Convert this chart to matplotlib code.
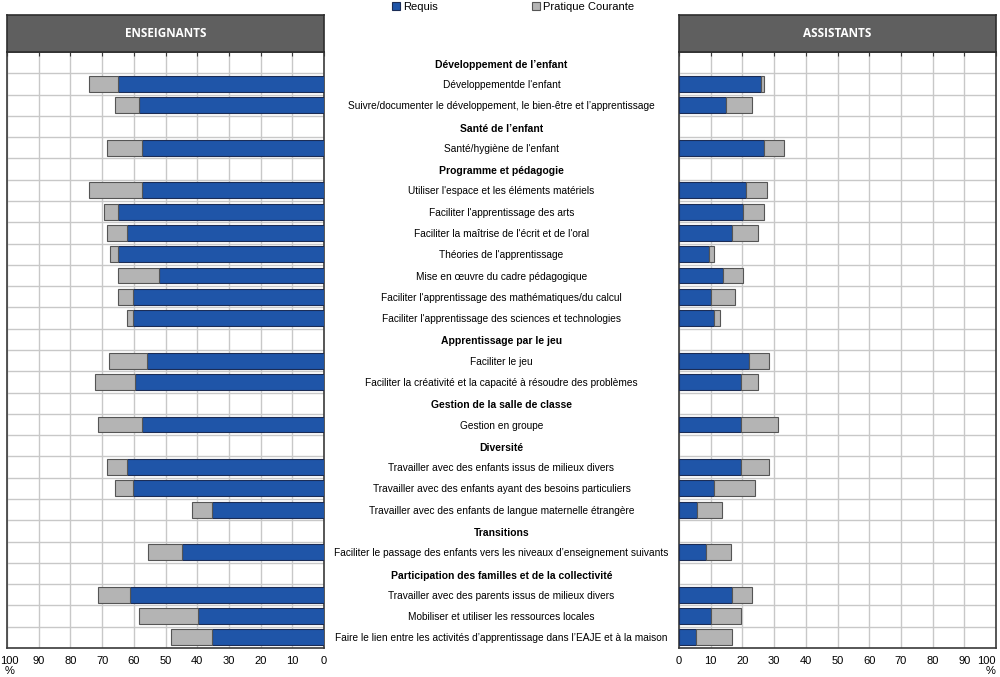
import matplotlib
matplotlib.use("Agg")
import matplotlib.pyplot as plt
from matplotlib.patches import Patch
from matplotlib.transforms import blended_transform_factory
import numpy as np

plt.rcParams['font.family'] = ['Liberation Sans', 'DejaVu Sans']

# ---- data ----
categories = ["Développement de l’enfant", "Santé de l’enfant", "Programme et pédagogie",
              "Apprentissage par le jeu", "Gestion de la salle de classe", "Diversité",
              "Transitions", "Participation des familles et de la collectivité"]

labels = ["Développementde l'enfant",
          "Suivre/documenter le développement, le bien-être et l’apprentissage",
          "Santé/hygiène de l'enfant",
          "Utiliser l'espace et les éléments matériels",
          "Faciliter l'apprentissage des arts",
          "Faciliter la maîtrise de l'écrit et de l'oral",
          "Théories de l'apprentissage",
          "Mise en œuvre du cadre pédagogique",
          "Faciliter l'apprentissage des mathématiques/du calcul",
          "Faciliter l'apprentissage des sciences et technologies",
          "Faciliter le jeu",
          "Faciliter la créativité et la capacité à résoudre des problèmes",
          "Gestion en groupe",
          "Travailler avec des enfants issus de milieux divers",
          "Travailler avec des enfants ayant des besoins particuliers",
          "Travailler avec des enfants de langue maternelle étrangère",
          "Faciliter le passage des enfants vers les niveaux d’enseignement suivants",
          "Travailler avec des parents issus de milieux divers",
          "Mobiliser et utiliser les ressources locales",
          "Faire le lien entre les activités d’apprentissage dans l’EAJE et à la maison"]
label_group = [0, 0, 1, 2, 2, 2, 2, 2, 2, 2, 3, 3, 4, 5, 5, 5, 6, 7, 7, 7]

ens_requis = [64.9, 58.4, 57.3, 57.3, 64.9, 62.0, 64.9, 52.0, 60.2, 60.2,
              55.8, 59.6, 57.4, 62.1, 60.3, 35.3, 44.8, 61.2, 39.7, 35.2]
ens_pratique = [9.2, 7.4, 11.2, 16.8, 4.6, 6.5, 2.7, 12.9, 4.7, 1.8,
                12.0, 12.6, 13.9, 6.4, 5.6, 6.3, 10.7, 10.2, 18.6, 13.0]
ass_requis = [25.8, 14.7, 26.7, 21.2, 20.3, 16.6, 9.4, 13.9, 10.2, 11.1,
              22.1, 19.6, 19.6, 19.6, 11.0, 5.7, 8.5, 16.7, 10.2, 5.5]
ass_pratique = [0.9, 8.2, 6.4, 6.5, 6.4, 8.2, 1.7, 6.4, 7.4, 1.8,
                6.3, 5.3, 11.6, 8.8, 13.0, 7.9, 7.9, 6.3, 9.3, 11.1]

panel_titles = ["ENSEIGNANTS", "ASSISTANTS"]
series_names = ["Requis", "Pratique Courante"]
ticks = np.arange(0, 101, 10)

# ---- row layout: one row per group header, then its items ----
header_rows = []
item_rows = []
r = 0
for g in range(len(categories)):
    header_rows.append(r)
    r += 1
    n = label_group.count(g)
    item_rows.extend(range(r, r + n))
    r += n
n_rows = r

blue = '#1f55a8'
grey = '#b4b4b4'
edge_blue = '#1b2c55'
edge_grey = '#555555'
spine_c = '#3a3a3a'
fs = 7.3

fig = plt.figure(figsize=(10, 6.77), dpi=100)
y0, h = 0.0428, 0.8804
ax_l = fig.add_axes([0.007, y0, 0.317, h])
ax_r = fig.add_axes([0.679, y0, 0.317, h])
ax_m = fig.add_axes([0.324, y0, 0.355, h])

for ax, req, prat in [(ax_l, ens_requis, ens_pratique), (ax_r, ass_requis, ass_pratique)]:
    ax.barh(item_rows, req, height=0.75, color=blue, edgecolor=edge_blue, linewidth=0.8, zorder=3)
    ax.barh(item_rows, prat, left=req, height=0.75, color=grey, edgecolor=edge_grey,
            linewidth=0.8, zorder=3)
    ax.set_ylim(n_rows - 0.5, -0.5)
    ax.set_xticks(ticks)
    ax.set_yticks([])
    ax.set_yticks(np.arange(0.5, n_rows - 0.5, 1), minor=True)
    ax.grid(axis='x', color='#c8c8c8', linewidth=1.0, zorder=0)
    ax.grid(axis='y', which='minor', color='#c8c8c8', linewidth=1.0, zorder=0)
    ax.tick_params(axis='y', which='both', length=0)
    ax.tick_params(axis='x', bottom=False, top=True, direction='in', length=3,
                   color=spine_c, labelsize=8, pad=6)
    for s in ax.spines.values():
        s.set_color(spine_c)
        s.set_linewidth(1.2)
    ax.set_axisbelow(True)

ax_l.set_xlim(100, 0)
ax_r.set_xlim(0, 100)

# left: the "100" label sits against the figure edge, drawn separately
ax_l.set_xticklabels([str(t) if t < 100 else '' for t in ticks])
ax_l.annotate(str(ticks[-1]), xy=(100, 0), xycoords=('data', 'axes fraction'),
              xytext=(-5, -6), textcoords='offset points', ha='left', va='top', fontsize=8)
ax_l.annotate('%', xy=(100, 0), xycoords=('data', 'axes fraction'),
              xytext=(-2, -13), textcoords='offset points', ha='left', va='top', fontsize=8)
ax_r.get_xticklabels()[-1].set_ha('right')
ax_r.text(100, -0.039, '%', transform=blended_transform_factory(ax_r.transData, ax_r.transAxes),
          ha='right', va='center', fontsize=8)

# middle labels
ax_m.set_ylim(n_rows - 0.5, -0.5)
ax_m.set_xlim(0, 1)
ax_m.axis('off')
for row, cat in zip(header_rows, categories):
    ax_m.text(0.5, row + 0.1, cat, ha='center', va='center', fontsize=fs + 0.2, fontweight='bold')
for row, lab in zip(item_rows, labels):
    ax_m.text(0.5, row + 0.05, lab, ha='center', va='center', fontsize=fs)

# panel title boxes
for x0, title in zip([0.007, 0.679], panel_titles):
    tax = fig.add_axes([x0, 0.9232, 0.317, 0.0546])
    tax.set_facecolor('#5f5f5f')
    tax.set_xticks([])
    tax.set_yticks([])
    for s in tax.spines.values():
        s.set_color('#2e2e2e')
        s.set_linewidth(1.2)
    tax.text(0.5, 0.5, title, ha='center', va='center', color='white',
             fontsize=8.5, fontweight='bold', family=['Open Sans', 'DejaVu Sans'],
             transform=tax.transAxes)

handles = [Patch(facecolor=blue, edgecolor=edge_blue, linewidth=0.8),
           Patch(facecolor=grey, edgecolor=edge_grey, linewidth=0.8)]
fig.legend(handles, series_names, loc='upper center', bbox_to_anchor=(0.513, 1.012),
           ncol=2, frameon=False, fontsize=8, handlelength=0.7, handleheight=0.7,
           handletextpad=0.3, columnspacing=8.5)

fig.savefig('out.png', dpi=100)
